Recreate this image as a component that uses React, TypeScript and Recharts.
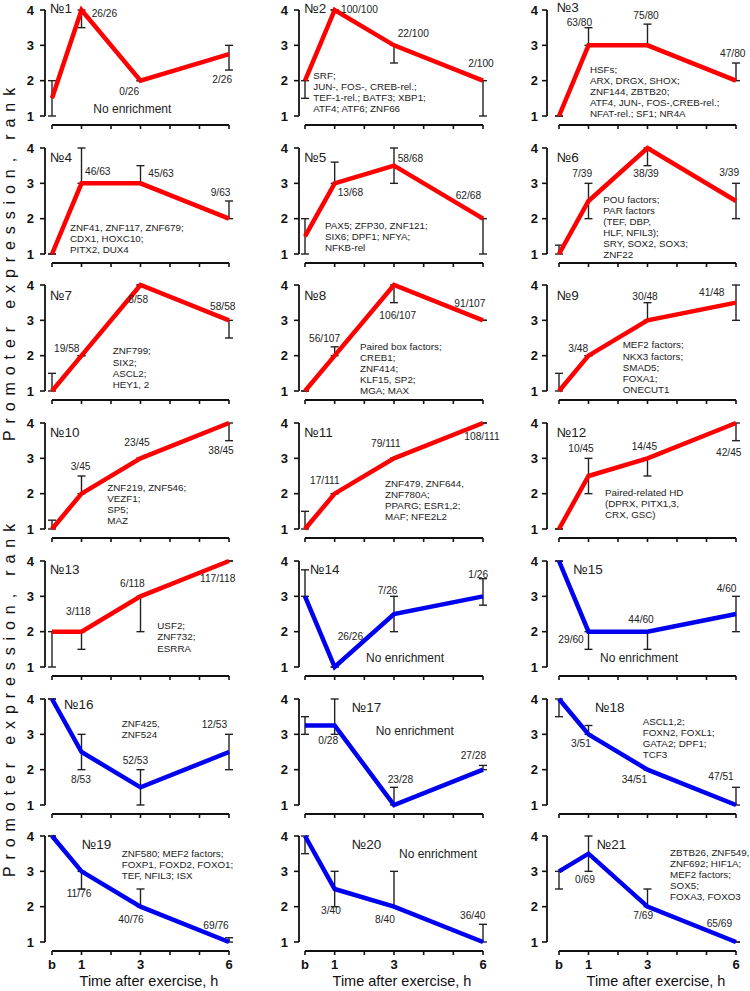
import React from 'react';
import { LineChart, Line, XAxis, YAxis, ErrorBar, ReferenceLine } from 'recharts';

// time points: b (baseline), 1 h, 3 h, 6 h
const TIMES = [0, 1, 3, 6];
const X_TICKS = [0, 1, 2, 3, 4, 5, 6];
const X_TICK_LABELS: Record<number, string> = { 0: 'b', 1: '1', 3: '3', 6: '6' };
const Y_TICKS = [1, 2, 3, 4];

// promoter expression rank per cluster (№1..№21) at b, 1, 3, 6 h
const RANK = [
  [1.5, 4, 2, 2.75],
  [2, 4, 3, 2],
  [1, 3, 3, 2],
  [1, 3, 3, 2],
  [1.5, 3, 3.5, 2],
  [1, 2.5, 4, 2.5],
  [1, 2, 4, 3],
  [1, 2, 4, 3],
  [1, 2, 3, 3.5],
  [1, 2, 3, 4],
  [1, 2, 3, 4],
  [1, 2.5, 3, 4],
  [2, 2, 3, 4],
  [3, 1, 2.5, 3],
  [4, 2, 2, 2.5],
  [4, 2.5, 1.5, 2.5],
  [3.25, 3.25, 1, 2],
  [4, 3, 2, 1],
  [4, 3, 2, 1],
  [4, 2.5, 2, 1],
  [3, 3.5, 2, 1],
];

const ERR_LO = [
  [0.5, 0.5, 0, 0.45],
  [0.5, 0, 0.5, 1],
  [0, 0, 0, 0],
  [0, 0, 0, 0],
  [0.5, 0, 0.5, 1],
  [0, 0.5, 0.5, 0.5],
  [0, 0, 0, 0.5],
  [0, 0, 0.5, 0],
  [0, 0, 0, 0.5],
  [0, 0, 0, 0.5],
  [0, 0, 0, 0],
  [0, 0.5, 0.5, 0.5],
  [1, 0.5, 1, 0],
  [0, 0, 0.5, 0.25],
  [0, 0.5, 0.5, 0.5],
  [0, 0.5, 0.5, 0.5],
  [0.25, 0.25, 0, 0],
  [0.5, 0, 0, 0],
  [0, 0.5, 0, 0],
  [0.5, 0.5, 0, 0],
  [0.5, 0.5, 0, 0],
];

const ERR_HI = [
  [0.5, 0, 0, 0.25],
  [0, 0, 0, 0],
  [0, 0.5, 0.6, 0.5],
  [0, 1, 0.5, 0.5],
  [0.5, 0.6, 0.5, 0],
  [0.25, 0.5, 0, 0.5],
  [0.5, 0, 0, 0],
  [0, 0.25, 0, 0],
  [0.5, 0, 0.5, 0.5],
  [0.25, 0.5, 0, 0],
  [0.5, 0, 0, 0],
  [0, 0.5, 0, 0],
  [0, 0, 0, 0],
  [0.75, 0, 0.5, 0.5],
  [0, 0, 0, 0.5],
  [0, 0.5, 0.5, 0.5],
  [0.25, 0.75, 0.5, 0.12],
  [0, 0.25, 0, 0.5],
  [0, 0, 0.5, 0.12],
  [0, 0.5, 1, 0.5],
  [0, 0.5, 0.5, 0],
];

// enriched / total promoters at 1, 3, 6 h
const COUNTS = [
  ['26/26', '0/26', '2/26'],
  ['100/100', '22/100', '2/100'],
  ['63/80', '75/80', '47/80'],
  ['46/63', '45/63', '9/63'],
  ['13/68', '58/68', '62/68'],
  ['7/39', '38/39', '3/39'],
  ['19/58', '8/58', '58/58'],
  ['56/107', '106/107', '91/107'],
  ['3/48', '30/48', '41/48'],
  ['3/45', '23/45', '38/45'],
  ['17/111', '79/111', '108/111'],
  ['10/45', '14/45', '42/45'],
  ['3/118', '6/118', '117/118'],
  ['26/26', '7/26', '1/26'],
  ['29/60', '44/60', '4/60'],
  ['8/53', '52/53', '12/53'],
  ['0/28', '23/28', '27/28'],
  ['3/51', '34/51', '47/51'],
  ['11/76', '40/76', '69/76'],
  ['3/40', '8/40', '36/40'],
  ['0/69', '7/69', '65/69'],
];

const FACTORS = [
  ['No enrichment'],
  ['SRF;', 'JUN-, FOS-, CREB-rel.;', 'TEF-1-rel.; BATF3; XBP1;', 'ATF4; ATF6; ZNF66'],
  ['HSFs;', 'ARX, DRGX, SHOX;', 'ZNF144, ZBTB20;', 'ATF4, JUN-, FOS-,CREB-rel.;', 'NFAT-rel.; SF1; NR4A'],
  ['ZNF41, ZNF117, ZNF679;', 'CDX1, HOXC10;', 'PITX2, DUX4'],
  ['PAX5; ZFP30, ZNF121;', 'SIX6; DPF1; NFYA;', 'NFKB-rel'],
  ['POU factors;', 'PAR factors', '(TEF, DBP,', 'HLF, NFIL3);', 'SRY, SOX2, SOX3;', 'ZNF22'],
  ['ZNF799;', 'SIX2;', 'ASCL2;', 'HEY1, 2'],
  ['Paired box factors;', 'CREB1;', 'ZNF414;', 'KLF15, SP2;', 'MGA; MAX'],
  ['MEF2 factors;', 'NKX3 factors;', 'SMAD5;', 'FOXA1;', 'ONECUT1'],
  ['ZNF219, ZNF546;', 'VEZF1;', 'SP5;', 'MAZ'],
  ['ZNF479, ZNF644,', 'ZNF780A;', 'PPARG; ESR1,2;', 'MAF; NFE2L2'],
  ['Paired-related HD', '(DPRX, PITX1,3,', 'CRX, GSC)'],
  ['USF2;', 'ZNF732;', 'ESRRA'],
  ['No enrichment'],
  ['No enrichment'],
  ['ZNF425,', 'ZNF524'],
  ['No enrichment'],
  ['ASCL1,2;', 'FOXN2, FOXL1;', 'GATA2; DPF1;', 'TCF3'],
  ['ZNF580; MEF2 factors;', 'FOXP1, FOXD2, FOXO1;', 'TEF, NFIL3; ISX'],
  ['No enrichment'],
  ['ZBTB26, ZNF549,', 'ZNF692; HIF1A;', 'MEF2 factors;', 'SOX5;', 'FOXA3, FOXO3'],
];

const UP_PANELS = 13; // first 13 clusters drawn red, rest blue

// ---- layout (page pixels) ----
const COL_AXIS = [45, 299, 547];
const COL_B = [52, 305, 559];
const COL_END = [229, 483, 736];
const Y_TICK_GAP = [6, 6, 4];
const ROW_Y4 = (r: number) => 10 + r * 137.7;
const PLOT_H = 115;
const Y_UNIT = 106 / 3;
const Y_MIN = 1 - 9 / Y_UNIT;
const AXIS_W = 30;
const TOP_PAD = 6;

// label positions relative to (b tick x, y of rank 4), baseline
const NUM_POS = [
  [-2, 3], [-0.7, 3], [-2.3, 2], [-2, 14], [-0.7, 14], [-2.3, 14.7], [-2, 14.6],
  [-0.7, 14.6], [-2.3, 14.6], [-2, 14.2], [-0.7, 14.2], [-2.3, 14.2], [-2, 13.5], [5, 13.5],
  [14.3, 13.5], [12, 10.8], [46.7, 13.2], [36, 13.2], [29.7, 13.1], [46.7, 13.1], [37.7, 13.1],
];

const COUNT_POS = [
  [[39.7, 7.3], [67.3, 85], [160.3, 72.7]],
  [[36, 2.7], [92.7, 27.3], [163.3, 56.7]],
  [[7.7, 16], [74.3, 9.3], [161, 46.7]],
  [[33, 27.3], [96.3, 29], [158.7, 48]],
  [[32.7, 48.3], [92.7, 14], [150.7, 51.7]],
  [[13.3, 29], [74.3, 29], [160.3, 28.3]],
  [[2, 66.3], [76.3, 18], [158, 24.6]],
  [[4, 57], [74.3, 33.6], [149.3, 21.3]],
  [[9.3, 66.3], [73.3, 14.6], [140, 10.3]],
  [[18.7, 46.9], [72.3, 22.9], [156.3, 30.9]],
  [[5, 60.9], [66, 23.6], [159.3, 16.9]],
  [[9.3, 28.6], [72.7, 26.9], [157, 32.6]],
  [[14, 54.2], [68, 25.9], [148, 21.5]],
  [[32.7, 79.2], [72.7, 33.2], [163.3, 16.9]],
  [[-0.7, 82.5], [69.3, 62.5], [157.7, 30.9]],
  [[19, 84.2], [70.7, 65.5], [149.7, 29.8]],
  [[13.3, 45.5], [82.7, 84.2], [155.7, 60.5]],
  [[12, 48.2], [62.7, 84.8], [149.3, 81.5]],
  [[14.7, 61.1], [66.3, 87.1], [151.3, 93.1]],
  [[16, 77.8], [70, 87.1], [155, 83.1]],
  [[16, 46.5], [74.3, 83.1], [147.7, 90.5]],
];

const FACTOR_POS = [
  [41.3, 103.3], [8.3, 68.7], [31, 62.7], [18, 83.3], [20, 81], [44.3, 55], [60.7, 69],
  [55, 64.6], [63.7, 63], [55.3, 67.9], [80, 63.6], [46, 72.6], [105.3, 68.5], [61, 100.9],
  [41, 100.9], [69.7, 28.8], [70.7, 36.5], [83.7, 26.5], [69.7, 20.5], [94, 22.1], [111, 19.5],
];

const FONT = '"Liberation Sans", Arial, sans-serif';
const AXIS_COLOR = '#111';

function Panel({ idx }: { idx: number }) {
  const col = idx % 3;
  const row = Math.floor(idx / 3);
  const unit = (COL_END[col] - COL_B[col]) / 6;
  const xMin = -(COL_B[col] - COL_AXIS[col]) / unit;
  const width = AXIS_W + (COL_END[col] - COL_AXIS[col]) + 8;
  const height = TOP_PAD + PLOT_H + 30;
  const bottomRow = row === 6;
  const color = idx < UP_PANELS ? '#ff0000' : '#0000f0';
  const data = TIMES.map((t, i) => ({
    t,
    rank: RANK[idx][i],
    err: [ERR_LO[idx][i], ERR_HI[idx][i]],
  }));

  return (
    <div style={{ position: 'absolute', left: COL_AXIS[col] - AXIS_W, top: ROW_Y4(row) - TOP_PAD }}>
      <LineChart width={width} height={height} data={data} margin={{ top: TOP_PAD, right: 8, bottom: 0, left: 0 }}>
        <XAxis
          type="number"
          dataKey="t"
          domain={[xMin, 6]}
          ticks={X_TICKS}
          interval={0}
          axisLine={false}
          tickLine={{ stroke: AXIS_COLOR, strokeWidth: 1.6 }}
          tickSize={4}
          tickMargin={5}
          height={30}
          tick={{ fill: '#111', fontSize: 13, fontWeight: 700, fontFamily: FONT }}
          tickFormatter={(v: number) => (bottomRow ? X_TICK_LABELS[v] ?? '' : '')}
        />
        <YAxis
          type="number"
          domain={[Y_MIN, 4]}
          ticks={Y_TICKS}
          interval={0}
          axisLine={false}
          width={AXIS_W}
          tickLine={{ stroke: AXIS_COLOR, strokeWidth: 1.6 }}
          tickSize={5}
          tickMargin={Y_TICK_GAP[col]}
          tick={{ fill: '#111', fontSize: 13, fontWeight: 700, fontFamily: FONT }}
        />
        <ReferenceLine
          segment={[{ x: xMin, y: 1 }, { x: xMin, y: 4 }]}
          stroke={AXIS_COLOR}
          strokeWidth={1.8}
          ifOverflow="visible"
        />
        <ReferenceLine
          segment={[{ x: 0, y: Y_MIN }, { x: 6, y: Y_MIN }]}
          stroke={AXIS_COLOR}
          strokeWidth={1.8}
          ifOverflow="visible"
        />
        <Line
          type="linear"
          dataKey="rank"
          stroke={color}
          strokeWidth={4.5}
          dot={false}
          activeDot={false}
          isAnimationActive={false}
        >
          <ErrorBar dataKey="err" direction="y" width={4} stroke="#222" strokeWidth={1.4} isAnimationActive={false} />
        </Line>
      </LineChart>
    </div>
  );
}

function Annotations() {
  const items: React.ReactNode[] = [];
  RANK.forEach((_, idx) => {
    const col = idx % 3;
    const row = Math.floor(idx / 3);
    const bx = COL_B[col];
    const by = ROW_Y4(row);
    items.push(
      <text key={`n${idx}`} x={bx + NUM_POS[idx][0]} y={by + NUM_POS[idx][1]} fontSize={13.5}>
        {`№${idx + 1}`}
      </text>
    );
    COUNTS[idx].forEach((c, j) => {
      items.push(
        <text key={`c${idx}-${j}`} x={bx + COUNT_POS[idx][j][0]} y={by + COUNT_POS[idx][j][1]} fontSize={10.2}>
          {c}
        </text>
      );
    });
    const lines = FACTORS[idx];
    const noEnrich = lines.length === 1 && lines[0] === 'No enrichment';
    items.push(
      <text key={`f${idx}`} x={bx + FACTOR_POS[idx][0]} y={by + FACTOR_POS[idx][1]} fontSize={noEnrich ? 12 : 9.8}>
        {lines.map((l, k) => (
          <tspan key={k} x={bx + FACTOR_POS[idx][0]} dy={k === 0 ? 0 : 11.1}>
            {l}
          </tspan>
        ))}
      </text>
    );
  });
  return (
    <svg
      width={750}
      height={991}
      style={{ position: 'absolute', left: 0, top: 0, pointerEvents: 'none' }}
      fontFamily={FONT}
      fill="#222"
    >
      {items}
      {[261, 697].map((cy) => (
        <text
          key={cy}
          transform={`translate(15, ${cy}) rotate(-90)`}
          textAnchor="middle"
          fontSize={16}
          letterSpacing={6.9}
          fill="#111"
        >
          Promoter expression, rank
        </text>
      ))}
      {COL_B.map((bx, i) => (
        <text key={`xt${i}`} x={bx + 97} y={986} textAnchor="middle" fontSize={14.5} fill="#111">
          Time after exercise, h
        </text>
      ))}
    </svg>
  );
}

export default function App() {
  return (
    <div style={{ position: 'absolute', left: 0, top: 0, width: 750, height: 991, background: '#fff' }}>
      {RANK.map((_, idx) => (
        <Panel key={idx} idx={idx} />
      ))}
      <Annotations />
    </div>
  );
}
